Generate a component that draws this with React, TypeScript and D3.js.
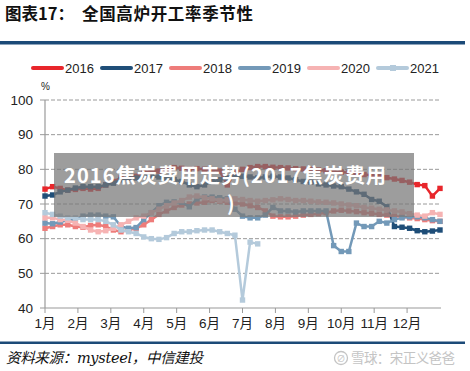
import { scaleLinear, line as d3_line, range } from "d3";

const years = ["2016", "2017", "2018", "2019", "2020", "2021"];
const colors = ["#e8262b", "#1f4e78", "#ee7c7a", "#7399b8", "#f6b3b3", "#b4cadb"];

const months = ["1月", "2月", "3月", "4月", "5月", "6月", "7月", "8月", "9月", "10月", "11月", "12月"];
const yTicks = [40, 50, 60, 70, 80, 90, 100];

// weekly values, index = week of year
const s2016 = [74.3, 75, 74.5, 74, 74.2, 74.5, 74.3, 74.5, 75.5, 76.5, 77.5, 77.5, 78, 79, 79.5, 79.5, 80, 80.5, 80.3, 80, 80.2, 80, 79.8, 79.5, 75.5, 79, 80, 80.5, 80.8, 80.8, 80.6, 80.5, 80.4, 80.2, 80.1, 80, 79.8, 79.6, 79.4, 79.2, 79, 78.7, 78.5, 78.3, 78, 77.6, 77.2, 76.8, 76.3, 75.6, 75.3, 72.3, 74.5];
const s2017 = [72.3, 72.6, 73.5, 74, 74.6, 75, 75, 75, 75.5, 76, 77, 77.5, 77.5, 78, 78, 77.8, 77.5, 77, 76.5, 75.5, 75, 75.5, 76.5, 77, 77.5, 77.8, 78, 77.8, 77.5, 77.8, 78, 77.8, 77.5, 77, 76.5, 76.3, 75.8, 75.5, 75.2, 75, 74.3, 73.5, 72.8, 71.3, 70.8, 69.2, 63.5, 63.3, 63, 62.3, 62, 62.2, 62.5];
const s2018 = [63, 63.5, 64, 64, 63.5, 63.3, 63.8, 64, 63.5, 62.5, 62, 62.5, 63, 64, 65.5, 67, 68, 69, 69.7, 70, 70.3, 70.5, 71, 70.8, 70.5, 70.3, 70, 69.5, 69, 68, 66.5, 66.3, 66.3, 66.5, 66.8, 67, 67.2, 67.5, 68, 68.2, 68, 67.8, 67.5, 67.3, 67, 66.8, 66.5, 66.3, 66, 65.8, 65.5, 65.2, 65];
const s2019 = [64.5, 64.3, 64.8, 65.3, 65.5, 66.5, 66.8, 66.8, 66.5, 66.3, 63.5, 63, 63.2, 65.5, 67.5, 69.5, 70.5, 70.6, 70.5, 69.2, 71.5, 72, 72, 71.8, 71.5, 68.5, 66.5, 66, 66, 66.8, 69, 68, 68, 67.7, 68, 68, 68, 68, 58, 56.3, 56.3, 64.5, 63.5, 63.5, 65, 64.5, 65.5, 66, 66.3, 66.3, 66, 65.5, 65];
const s2020 = [66, 66, 65.5, 65.3, 64.5, 63.5, 62.5, 62, 62.3, 63, 64, 65, 66, 66.5, 67.5, 68.5, 69.5, 70.3, 71, 72, 72.3, 71.8, 71.5, 71, 71.2, 71.5, 71.3, 71, 70.8, 71, 71.2, 71.5, 71.3, 71, 71, 70.8, 70.6, 70.5, 70.3, 70, 69.7, 69.5, 69, 68.8, 68.5, 68.3, 68, 67.7, 67.2, 66.8, 66.5, 67.5, 67];
const s2021 = [67.5, 67, 66.5, 66, 66, 65.5, 65.5, 65.5, 65, 64, 62.5, 62, 61.5, 60.5, 60, 59.8, 60.3, 61.5, 62, 62, 62.3, 62.5, 62.5, 62, 61.5, 61, 42.3, 59, 58.5];

const series = [s2016, s2017, s2018, s2019, s2020, s2021];

const latin = "'Liberation Sans', Arial, 'Noto Sans CJK SC', sans-serif";
const cjk = "'Noto Sans CJK SC', 'Liberation Sans', sans-serif";

export default function App() {
  const x = scaleLinear().domain([0, 52]).range([45, 440]);
  const y = scaleLinear().domain([40, 100]).range([308, 100]);

  const line = d3_line<number>()
    .x((_, i) => x(i))
    .y((d) => y(d));

  const monthPos = range(12).map((m) => (m * 52) / 12);

  return (
    <svg
      width={470}
      height={371}
      style={{ position: "absolute", left: 0, top: 0, background: "#fff" }}
    >
      {/* Title */}
      <text x={5} y={20} fontSize={16.5} fontWeight="bold" fontFamily={cjk} fill="#111">
        图表17：
      </text>
      <text x={82} y={20} fontSize={16.5} fontWeight="bold" fontFamily={cjk} fill="#111" textLength={171}>
        全国高炉开工率季节性
      </text>
      <rect x={0} y={41} width={465} height={3.5} fill="#1c4a78" />

      {/* Legend */}
      {years.map((yr, i) => {
        const lx = 33 + i * 69;
        return (
          <g key={yr}>
            <line x1={lx} x2={lx + 29} y1={68} y2={68} stroke={colors[i]} strokeWidth={4} strokeLinecap="round" />
            {i === 5 && <rect x={lx + 12} y={65} width={6} height={6} fill={colors[i]} />}
            <text x={lx + 32} y={73} fontSize={13} fontFamily={latin} fill="#222">
              {yr}
            </text>
          </g>
        );
      })}

      <text x={41} y={90} fontSize={10} fontFamily={latin} fill="#222">
        %
      </text>

      {/* Grid */}
      {yTicks.slice(1).map((t) => (
        <line key={t} x1={45} x2={441} y1={y(t)} y2={y(t)} stroke="#9a9a9a" strokeWidth={1} strokeDasharray="4,2" />
      ))}

      {/* Y axis */}
      <line x1={45} x2={45} y1={y(100)} y2={y(40)} stroke="#9a9a9a" strokeWidth={1.2} />
      {yTicks.map((t) => (
        <g key={t}>
          <line x1={40} x2={45} y1={y(t)} y2={y(t)} stroke="#9a9a9a" />
          <text x={33} y={y(t) + 4.5} fontSize={13.5} textAnchor="end" fontFamily={latin} fill="#222">
            {t}
          </text>
        </g>
      ))}

      {/* X axis */}
      <line x1={45} x2={441} y1={y(40)} y2={y(40)} stroke="#9a9a9a" strokeWidth={1.2} />
      {monthPos.map((p, i) => (
        <g key={i}>
          <line x1={x(p)} x2={x(p)} y1={y(40)} y2={y(40) + 5} stroke="#9a9a9a" />
          <text x={x(p)} y={328} fontSize={13.5} textAnchor="middle" fontFamily={latin} fill="#222">
            {months[i]}
          </text>
        </g>
      ))}

      {/* Series */}
      {series.map((s, k) => (
        <g key={k}>
          <path d={line(s) ?? ""} fill="none" stroke={colors[k]} strokeWidth={2.5} strokeLinejoin="round" />
          {s.map((v, i) => (
            <rect key={i} x={x(i) - 2.7} y={y(v) - 2.7} width={5.4} height={5.4} fill={colors[k]} />
          ))}
        </g>
      ))}

      {/* Overlay banner */}
      <rect x={54} y={153} width={360} height={64} fill="#777" opacity={0.72} />
      <text x={64} y={183} fontSize={20} fontWeight="bold" fontFamily={cjk} fill="#fff" textLength={322}>
        2016焦炭费用走势(2017焦炭费用
      </text>
      <text x={227} y={211} fontSize={20} fontWeight="bold" fontFamily={cjk} fill="#fff">
        )
      </text>

      {/* Footer */}
      <rect x={0} y={341.5} width={465} height={2.5} fill="#1c4a78" />
      <text x={6} y={363} fontSize={14.5} fontStyle="italic" fontFamily="'DejaVu Serif', 'Noto Sans CJK SC', serif" fill="#111" textLength={197}>
        资料来源：mysteel，中信建投
      </text>
      <circle cx={341} cy={358} r={6.5} fill="none" stroke="#c4c4c4" strokeWidth={1.3} />
      <text x={341} y={362} fontSize={9} textAnchor="middle" fontFamily={latin} fill="#c4c4c4">
        ∅
      </text>
      <text x={351} y={363} fontSize={13.5} fontFamily={cjk} fill="#c4c4c4" textLength={104}>
        雪球：宋正义爸爸
      </text>
    </svg>
  );
}
